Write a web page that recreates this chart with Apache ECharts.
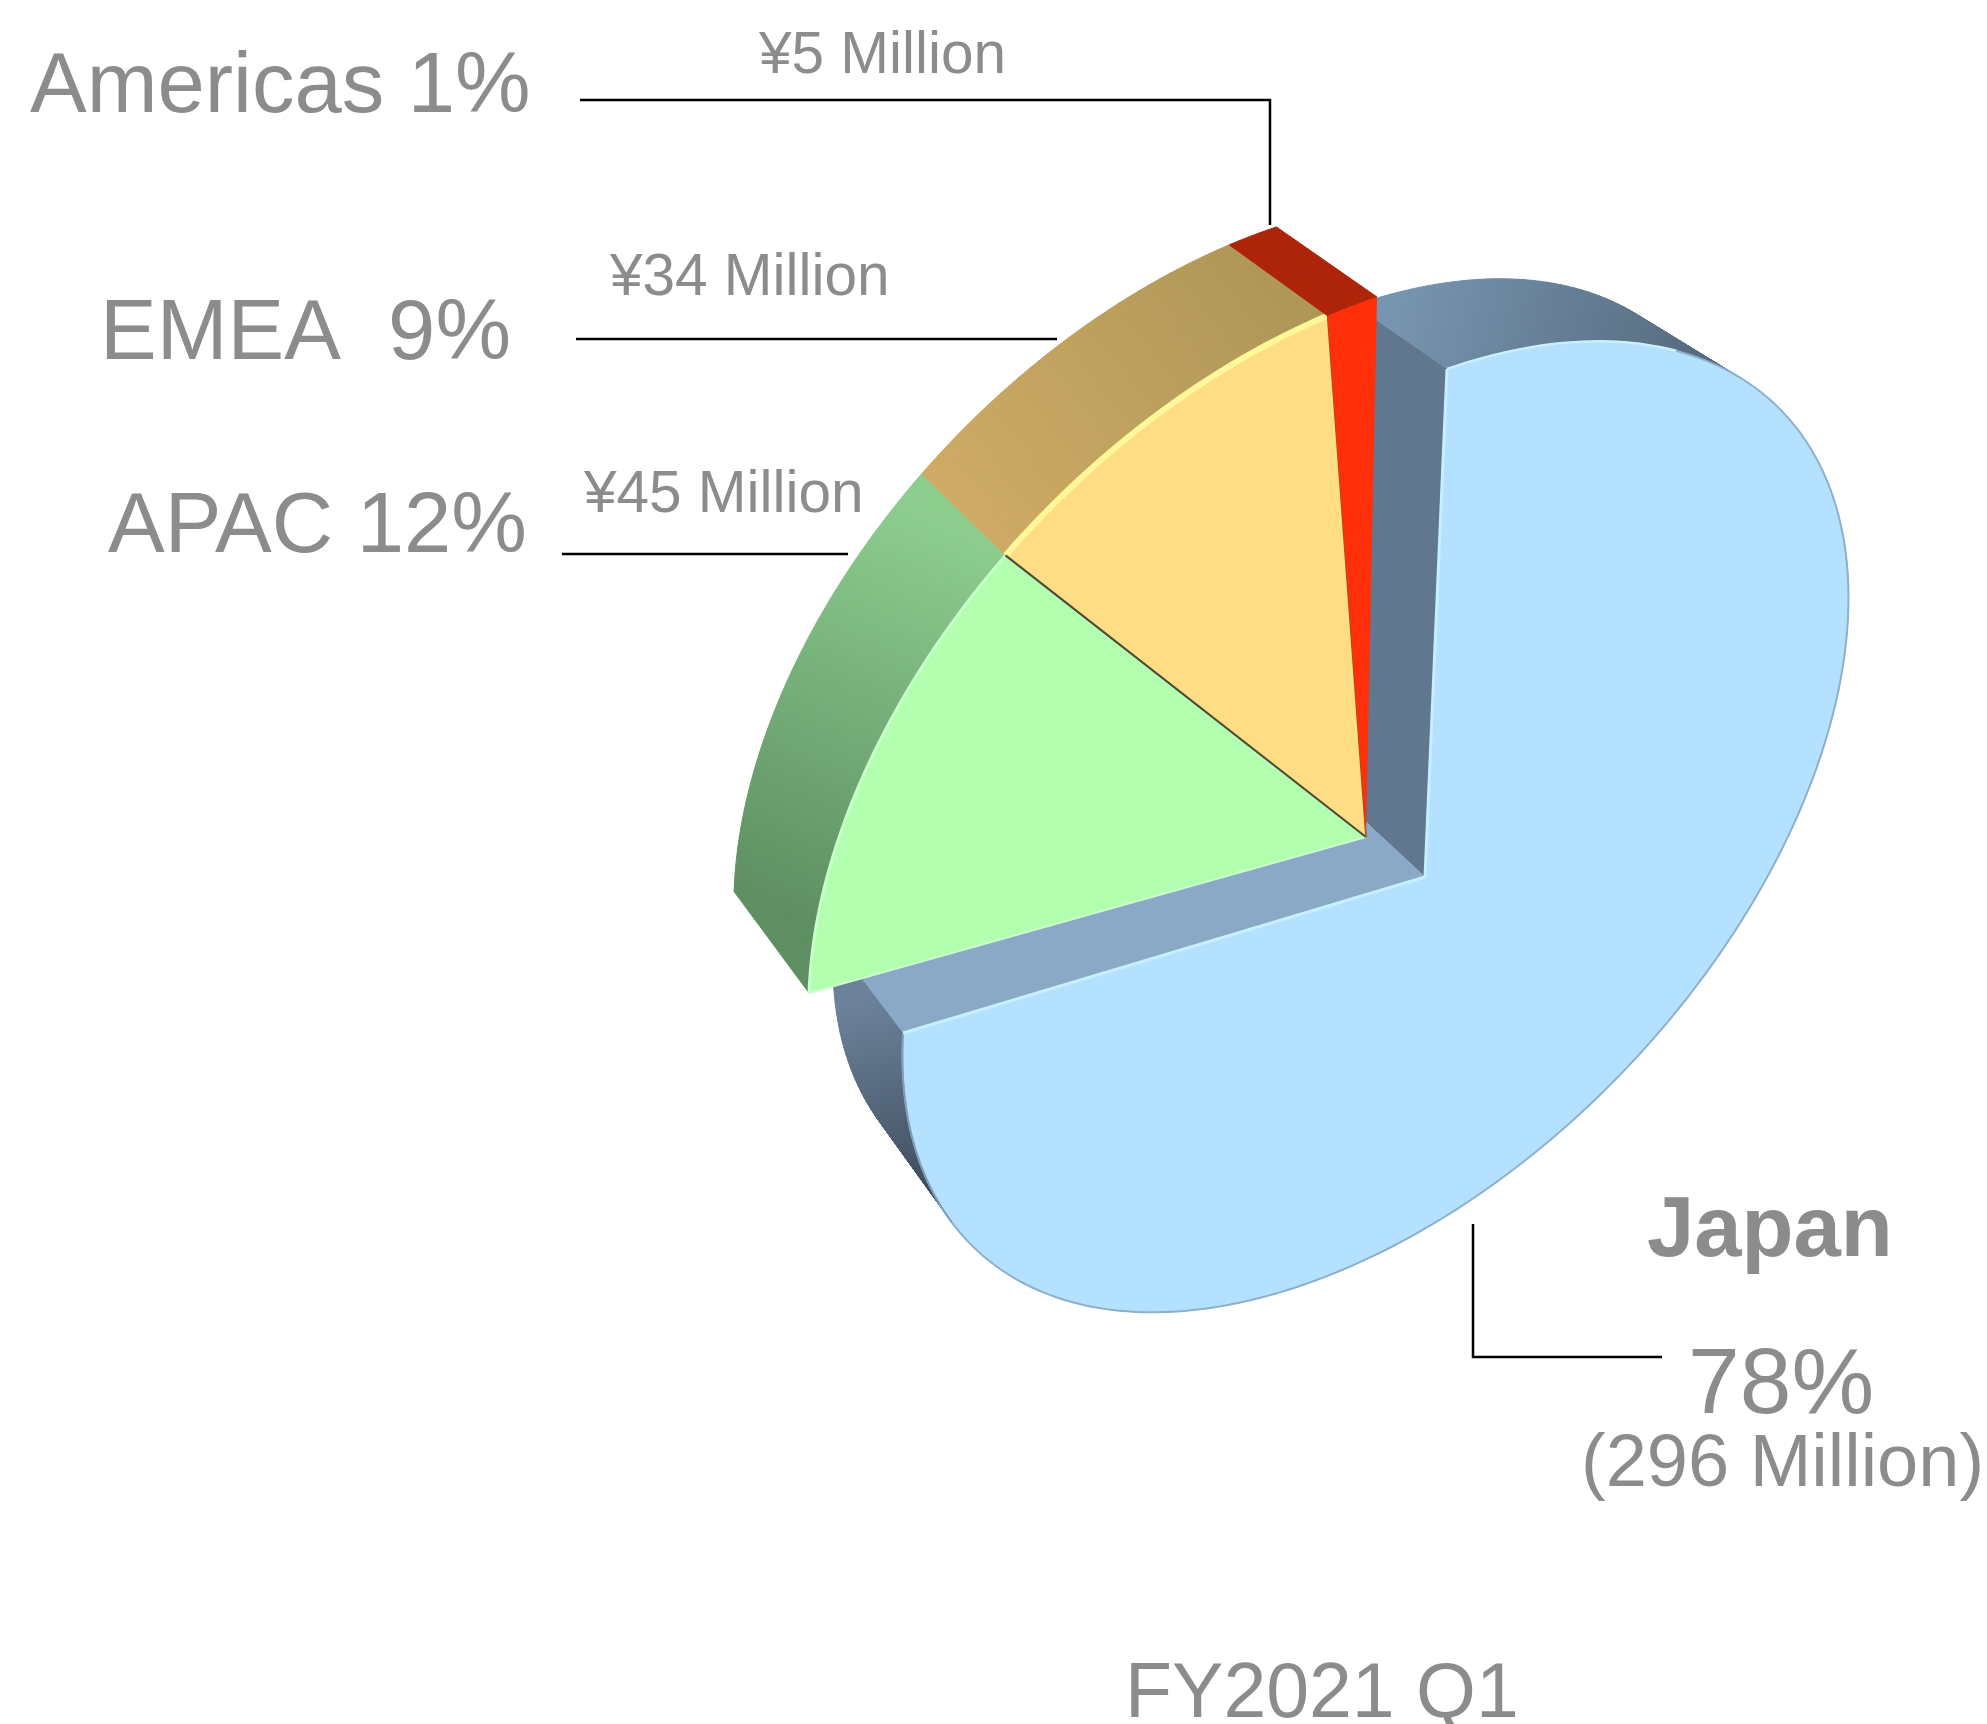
<!DOCTYPE html>
<html>
<head>
<meta charset="utf-8">
<title>FY2021 Q1</title>
<script src="https://cdn.jsdelivr.net/npm/echarts@6/dist/echarts.min.js"></script>
<style>
  html, body { margin: 0; padding: 0; background: #fff; }
  #main { width: 1987px; height: 1724px; }
</style>
</head>
<body>
<div id="main"></div>
<script>
  // Slices, counter clockwise from the top of the pie
  const regions = ['Americas', 'EMEA', 'APAC', 'Japan']
  const amounts = [5, 34, 45, 296]
  const shares = [1, 9, 12, 78]
  const periodLabel = 'FY2021 Q1'

  const total = amounts.reduce((a, b) => a + b, 0)
  const starts = amounts.map((v, i) => amounts.slice(0, i).reduce((a, b) => a + b, 0))

  // the pie is tilted in perspective, so unit circle points go through a homography
  const smallPie = { apex: [1366, 837], m: [493.2, -9.13, -220.1, 448.2], g: [0.103, 0.17], vp: [-857, -1260], depth: 0.955 }
  const bigPie = { apex: [1425, 877], m: [460.3, -18.26, -214.1, 421.6], g: [0.11, 0.17], vp: [-753, -1149], depth: 0.958 }

  function project (pie, u) {
    const w = 1 + pie.g[0] * u[0] + pie.g[1] * u[1]
    return [
      pie.apex[0] + (pie.m[0] * u[0] + pie.m[1] * u[1]) / w,
      pie.apex[1] + (pie.m[2] * u[0] + pie.m[3] * u[1]) / w
    ]
  }
  function pushBack (pie, p) {
    return [
      pie.vp[0] + (p[0] - pie.vp[0]) * pie.depth,
      pie.vp[1] + (p[1] - pie.vp[1]) * pie.depth
    ]
  }

  function grad (x, y, x2, y2, from, to) {
    return new echarts.graphic.LinearGradient(x, y, x2, y2, [
      { offset: 0, color: from },
      { offset: 1, color: to }
    ], true)
  }

  const faceColors = ['#ff2f0a', '#fedd85', '#b2ffb0', '#b4e1ff']

  function wallFill (i, p) {
    if (i === 0) return '#ad2408'
    if (i === 1) return grad(930, 480, 1240, 250, '#cfab65', '#b09758')
    if (i === 2) return grad(930, 520, 760, 900, '#8ccd8e', '#5e8f62')
    if (p[1] < 700) return grad(1400, 320, 1760, 400, '#7694af', '#4e6174')
    return grad(880, 1000, 930, 1230, '#6b819a', '#35424f')
  }

  function line (points, stroke, width) {
    return {
      type: 'polyline',
      shape: { points: points },
      style: { fill: null, stroke: stroke, lineWidth: width, lineJoin: 'round' }
    }
  }

  function renderSlice (params, api) {
    const i = api.value(2)
    const a0 = api.value(0)
    const a1 = api.value(1)
    const sys = params.coordSys
    const pie = i === 3 ? bigPie : smallPie
    const steps = Math.max(4, Math.round((a1 - a0) / total * 360))
    const arc = []
    for (let s = 0; s <= steps; s++) {
      const xy = api.coord([1, a0 + (a1 - a0) * s / steps])
      arc.push(project(pie, [(xy[0] - sys.cx) / sys.r, (xy[1] - sys.cy) / sys.r]))
    }
    const apex = pie.apex
    const backApex = pushBack(pie, apex)
    const children = []

    // outer wall, one thin quad per arc step
    for (let s = 0; s < steps; s++) {
      const p = arc[s]
      const q = arc[s + 1]
      const fill = wallFill(i, p)
      children.push({
        type: 'polygon',
        shape: { points: [p, q, pushBack(pie, q), pushBack(pie, p)] },
        style: { fill: fill, stroke: fill, lineWidth: 1 }
      })
    }

    // Japan has the cut out walls where the other slices came from
    if (i === 3) {
      const first = arc[0]
      const last = arc[arc.length - 1]
      children.push({
        type: 'polygon',
        shape: { points: [last, apex, backApex, pushBack(pie, last)] },
        style: { fill: '#60778f' }
      })
      children.push({
        type: 'polygon',
        shape: { points: [apex, first, pushBack(pie, first), backApex] },
        style: { fill: '#89a9c7' }
      })
    }

    children.push({
      type: 'polygon',
      shape: { points: [apex].concat(arc) },
      style: { fill: faceColors[i] }
    })

    // edge highlights
    if (i === 3) {
      children.push(line(arc, '#8db1cd', 2))
      children.push(line(arc.slice(-Math.round(steps * 0.1)), '#cdf0ff', 2.5))
      children.push(line(arc.slice(0, Math.round(steps * 0.1)), '#7f9db8', 1.5))
      children.push(line([arc[0], apex, arc[arc.length - 1]], '#c6f0ff', 3))
    } else if (i === 2) {
      children.push(line(arc, '#c9ffca', 3))
      children.push(line([arc[0], apex], '#7fc081', 2))
      children.push(line([apex, arc[arc.length - 1]], '#c9ffca', 2))
    } else if (i === 1) {
      children.push(line(arc, '#fff79a', 6))
      children.push(line([apex, arc[arc.length - 1]], '#4d4a38', 2))
      children.push(line([apex, arc[0]], '#8a5a20', 1.5))
    }
    return { type: 'group', children: children }
  }

  function label (text, x, baseline, size, bold) {
    return {
      type: 'text',
      x: x,
      y: baseline + 5 - size * 0.3465,
      style: {
        text: text,
        fill: '#8c8c8c',
        font: (bold ? 'bold ' : '') + size + 'px "Liberation Sans", Arial, sans-serif',
        align: 'left',
        verticalAlign: 'middle'
      }
    }
  }

  function leader (points) {
    return {
      type: 'polyline',
      shape: { points: points },
      style: { fill: null, stroke: '#000', lineWidth: 2.5 }
    }
  }

  const pct = (i) => shares[i] + '%'
  const yen = (i) => '¥' + amounts[i] + ' Million'

  const chart = echarts.init(document.getElementById('main'), null, { renderer: 'canvas' })
  chart.setOption({
    animation: false,
    backgroundColor: '#fff',
    polar: { center: [200, 200], radius: [0, 100] },
    angleAxis: { type: 'value', min: 0, max: total, startAngle: 90, clockwise: false, show: false },
    radiusAxis: { type: 'value', min: 0, max: 1, show: false },
    series: [{
      type: 'custom',
      coordinateSystem: 'polar',
      clip: false,
      silent: true,
      renderItem: renderSlice,
      // far slice first so the smaller ones sit on top of it
      data: regions.map((r, i) => [starts[i], starts[i] + amounts[i], i]).reverse()
    }],
    graphic: {
      elements: [
        leader([[580, 100], [1270, 100], [1270, 225]]),
        leader([[576, 339], [1057, 339]]),
        leader([[562, 554], [848, 554]]),
        leader([[1473, 1224], [1473, 1357], [1662, 1357]]),
        label(regions[0] + ' ' + pct(0), 30, 113, 85),
        label(regions[1] + '  ' + pct(1), 100, 360, 85),
        label(regions[2] + ' ' + pct(2), 108, 553, 85),
        label(yen(0), 759, 72, 58.5),
        label(yen(1), 610, 294, 58.5),
        label(yen(2), 584, 511, 58.5),
        label(regions[3], 1647, 1257, 85, true),
        label(pct(3), 1688, 1415, 93),
        label('(' + amounts[3] + ' Million)', 1581, 1486, 74),
        label(periodLabel, 1125, 1717, 77)
      ]
    }
  })
</script>
</body>
</html>
